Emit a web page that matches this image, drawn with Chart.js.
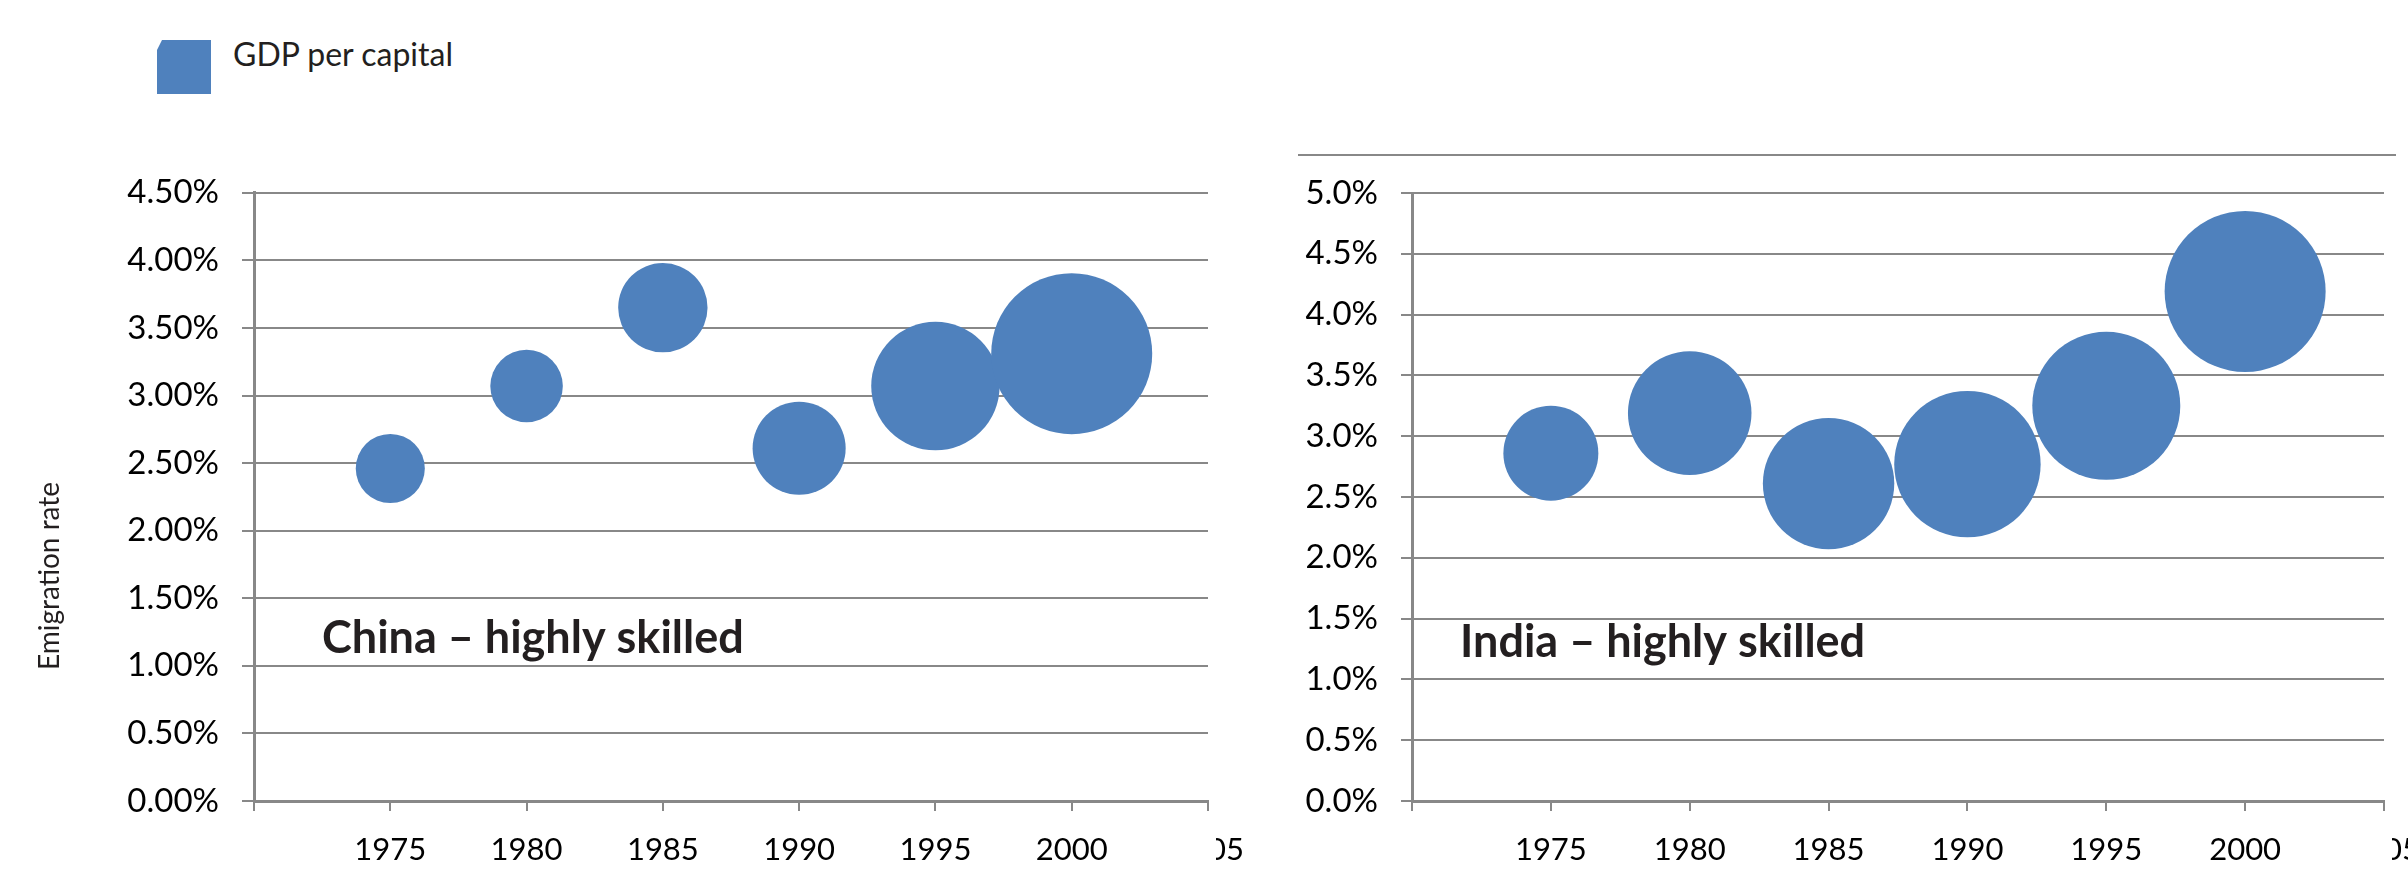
<!DOCTYPE html>
<html>
<head>
<meta charset="utf-8">
<title>Emigration rate - highly skilled</title>
<script src="https://cdn.jsdelivr.net/npm/chart.js@4.4.1/dist/chart.umd.min.js"></script>
<style>
    body {
        margin: 0;
        width: 2408px;
        height: 877px;
        background: #fff;
        position: relative;
        overflow: hidden;
        font-family: Lato, sans-serif;
    }
    canvas { position: absolute; }
    #china-chart { left: 0; top: 150px; }
    #india-chart { left: 1250px; top: 150px; }
    .legend-box {
        position: absolute;
        left: 157px;
        top: 40px;
        width: 54px;
        height: 54px;
        background: #4f81bd;
        clip-path: polygon(5px 0, 100% 0, 100% 100%, 0 100%, 0 10px);
    }
    .legend-text {
        position: absolute;
        left: 233px;
        top: 38px;
        font-size: 32px;
        line-height: 1;
        color: #231f20;
    }
    .top-rule {
        position: absolute;
        left: 1298px;
        top: 154px;
        width: 1098px;
        height: 2px;
        background: #888;
    }
</style>
</head>
<body>
<div class="legend-box"></div>
<div class="legend-text">GDP per capital</div>
<div class="top-rule"></div>
<canvas id="china-chart" width="1290" height="727"></canvas>
<canvas id="india-chart" width="1200" height="727"></canvas>

<script>
// 数据
const years = [1975, 1980, 1985, 1990, 1995, 2000];
const xTickValues = [1970, 1975, 1980, 1985, 1990, 1995, 2000, 2005];

const chinaRate = [2.46, 3.07, 3.65, 2.61, 3.07, 3.31];
const chinaGdp = [184, 203, 308, 334, 636, 1000];

const indiaRate = [2.86, 3.19, 2.61, 2.77, 3.25, 4.19];
const indiaGdp = [348, 589, 666, 827, 845, 1000];

const BUBBLE_COLOR = '#4f81bd';
const GRID_COLOR = '#888888';
const MAX_RADIUS = 80.5;

Chart.defaults.font.family = 'Lato, sans-serif';
Chart.defaults.color = '#000';

// 气泡面积按GDP缩放
function bubbleData(rates, gdp) {
    const maxGdp = Math.max(...gdp);
    return years.map((y, i) => ({
        x: y,
        y: rates[i],
        r: MAX_RADIUS * Math.sqrt(gdp[i] / maxGdp)
    }));
}

// 标题和被裁剪的2005标签
const extraText = {
    id: 'extraText',
    afterDraw(chart, args, opts) {
        const ctx = chart.ctx;
        const xs = chart.scales.x;

        // 最后一个刻度标签只露出右半部分
        const px = xs.getPixelForValue(2005);
        ctx.save();
        ctx.fillStyle = '#fff';
        ctx.fillRect(px - 42, xs.top + 14, 50, xs.bottom - xs.top);

        ctx.fillStyle = '#231f20';
        ctx.font = 'bold 45px Lato, sans-serif';
        ctx.textAlign = 'left';
        ctx.textBaseline = 'alphabetic';
        ctx.fillText(opts.title, opts.titleX, opts.titleY);

        if (opts.axisTitle) {
            ctx.font = '28px Lato, sans-serif';
            ctx.translate(opts.axisTitleX, opts.axisTitleY);
            ctx.rotate(-Math.PI / 2);
            ctx.textAlign = 'center';
            ctx.textBaseline = 'middle';
            ctx.fillText(opts.axisTitle, 0, 0);
        }
        ctx.restore();
    }
};

function makeChart(id, cfg) {
    const canvas = document.getElementById(id);
    return new Chart(canvas.getContext('2d'), {
        type: 'bubble',
        data: {
            datasets: [{
                label: 'GDP per capital',
                data: bubbleData(cfg.rates, cfg.gdp),
                backgroundColor: BUBBLE_COLOR,
                borderColor: BUBBLE_COLOR,
                borderWidth: 0,
                clip: false
            }]
        },
        options: {
            responsive: false,
            animation: false,
            layout: {
                autoPadding: false,
                padding: { left: 0, right: cfg.padRight, top: cfg.padTop, bottom: 0 }
            },
            plugins: {
                legend: { display: false },
                tooltip: { enabled: false },
                extraText: {
                    title: cfg.title,
                    titleX: cfg.titleX,
                    titleY: cfg.titleY,
                    axisTitle: cfg.axisTitle,
                    axisTitleX: 50,
                    axisTitleY: 426
                }
            },
            scales: {
                x: {
                    type: 'linear',
                    min: 1970,
                    max: 2005,
                    afterBuildTicks: scale => {
                        scale.ticks = xTickValues.map(v => ({ value: v }));
                    },
                    afterFit: scale => { scale.height = 76; },
                    ticks: {
                        font: { size: 31 },
                        padding: 20,
                        maxRotation: 0,
                        autoSkip: false,
                        callback: v => v === 1970 ? '' : String(v)
                    },
                    grid: {
                        drawOnChartArea: false,
                        drawTicks: true,
                        tickLength: 10,
                        color: GRID_COLOR,
                        lineWidth: 2
                    },
                    border: { color: GRID_COLOR, width: 3 }
                },
                y: {
                    min: 0,
                    max: cfg.yMax,
                    afterFit: scale => { scale.width = cfg.yAxisWidth; },
                    ticks: {
                        stepSize: 0.5,
                        font: { size: 33 },
                        padding: 23,
                        callback: v => v.toFixed(cfg.decimals) + '%'
                    },
                    grid: {
                        color: GRID_COLOR,
                        lineWidth: 2,
                        tickLength: cfg.tickLength
                    },
                    border: { color: GRID_COLOR, width: 3 }
                }
            }
        },
        plugins: [extraText]
    });
}

makeChart('china-chart', {
    rates: chinaRate,
    gdp: chinaGdp,
    yMax: 4.5,
    decimals: 2,
    yAxisWidth: 254,
    tickLength: 12,
    padTop: 41,
    padRight: 82,
    title: 'China \u2013 highly skilled',
    titleX: 322,
    titleY: 503,
    axisTitle: 'Emigration rate'
});

makeChart('india-chart', {
    rates: indiaRate,
    gdp: indiaGdp,
    yMax: 5,
    decimals: 1,
    yAxisWidth: 162,
    tickLength: 11,
    padTop: 43,
    padRight: 66,
    title: 'India \u2013 highly skilled',
    titleX: 210,
    titleY: 507,
    axisTitle: null
});
</script>
</body>
</html>
